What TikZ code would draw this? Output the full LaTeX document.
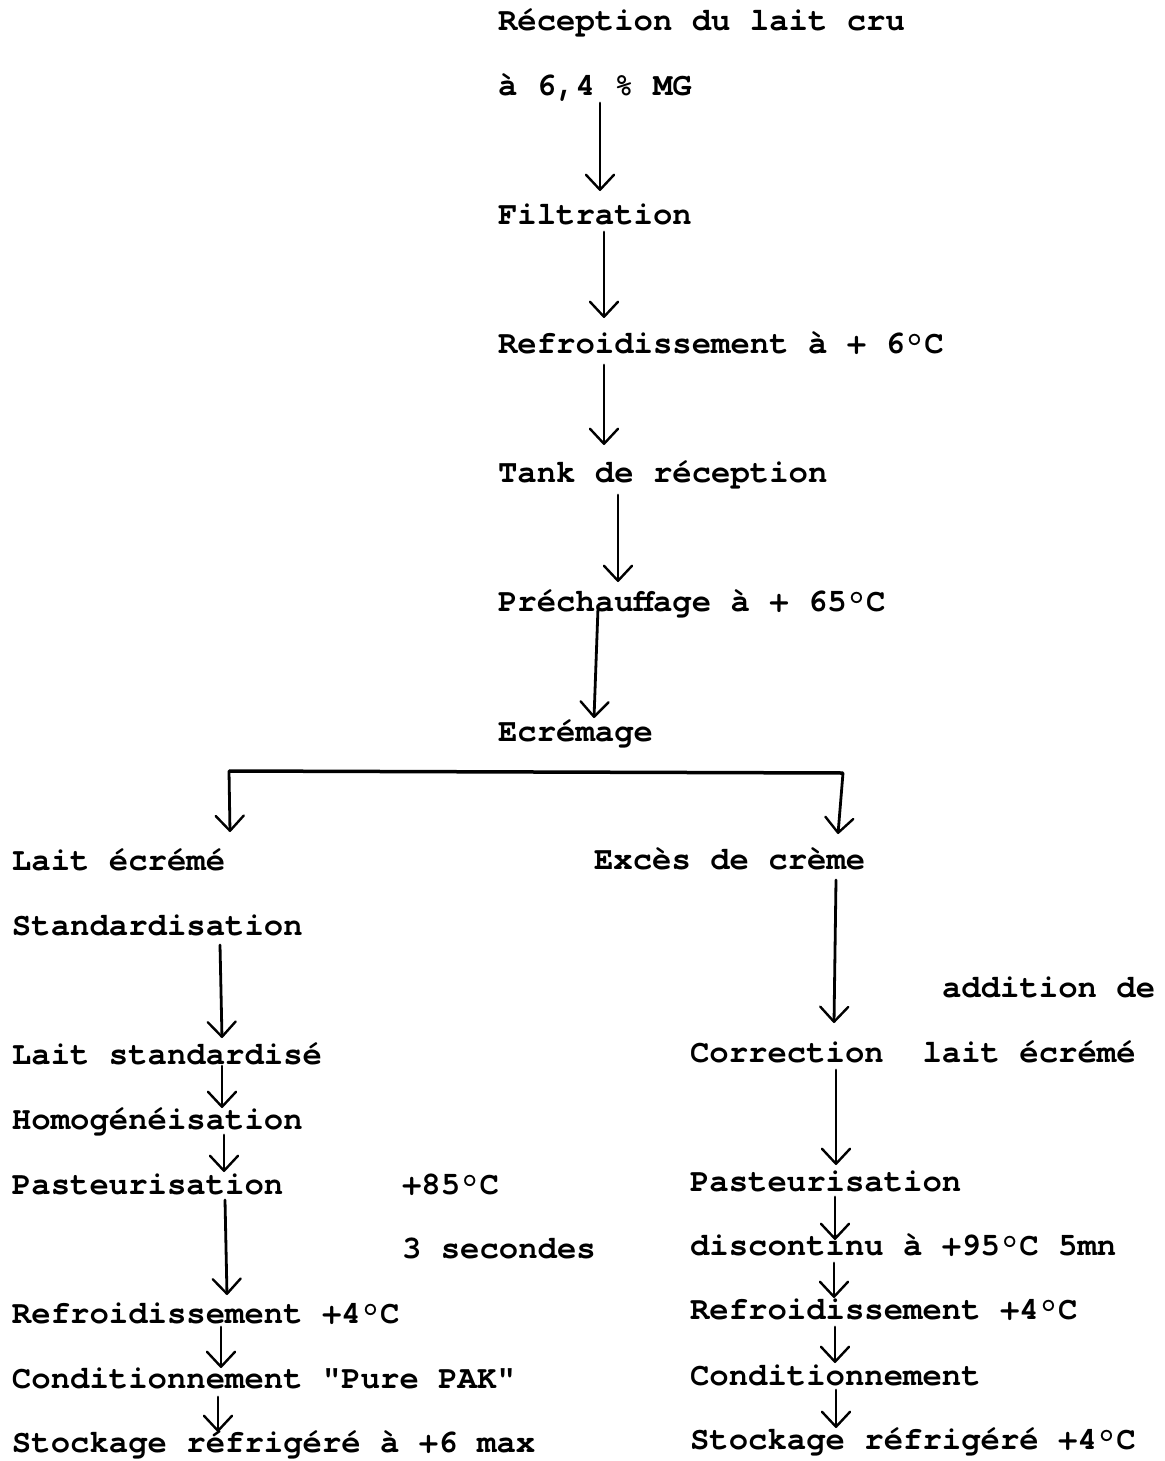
\documentclass[tikz,border=0pt]{standalone}
\usepackage{fontspec}
\newfontfamily\tw{texgyrecursor-bold.otf}
\usetikzlibrary{arrows.meta,calc}
\tikzset{
  lbl/.style={anchor=base west, inner sep=0pt, outer sep=0pt, font=\tw\fontsize{32.3}{33}\selectfont},
  arr/.style={line width=2.8pt, line cap=round,
    -{Straight Barb[length=15pt,width=28pt,line width=2.4pt,round]}},
  bar/.style={line width=3.5pt}
}
\begin{document}
\begin{tikzpicture}[x=1pt,y=-1pt]
\useasboundingbox[fill=white] (0,0) rectangle (1164,1461);
% central column
\node[lbl] (n1) at (498,31) {Réception du lait cru};
\node[lbl] (n2) at (498,96) {à 6,4 \% MG};
\node[lbl] (n3) at (498,224) {Filtration};
\node[lbl] (n4) at (498,353) {Refroidissement à + 6°C};
\node[lbl] (n5) at (498,482) {Tank de réception};
\node[lbl] (n6) at (498,611) {Préchauffage à + 65°C};
\node[lbl] (n7) at (498,741) {Ecrémage};
% left column
\node[lbl] (l1) at (12,870) {Lait écrémé};
\node[lbl] (l2) at (12,935) {Standardisation};
\node[lbl] (l3) at (12,1064) {Lait standardisé};
\node[lbl] (l4) at (12,1129) {Homogénéisation};
\node[lbl] (l5) at (12,1194) {Pasteurisation};
\node[lbl] (lt) at (402,1194) {+85°C};
\node[lbl] (ls) at (402,1258) {3 secondes};
\node[lbl] (l6) at (12,1323) {Refroidissement +4°C};
\node[lbl] (l7) at (12,1388) {Conditionnement "Pure PAK"};
\node[lbl] (l8) at (12,1452) {Stockage réfrigéré à +6 max};
% right column
\node[lbl] (r1) at (594,869) {Excès de crème};
\node[lbl] (ra) at (942,997) {addition de};
\node[lbl] (r2) at (690,1062) {Correction\ \ lait écrémé};
\node[lbl] (r3) at (690,1191) {Pasteurisation};
\node[lbl] (r4) at (690,1255) {discontinu à +95°C 5mn};
\node[lbl] (r5) at (690,1319) {Refroidissement +4°C};
\node[lbl] (r6) at (690,1385) {Conditionnement};
\node[lbl] (r7) at (690,1449) {Stockage réfrigéré +4°C};
% split bar
\coordinate (hl) at (229,771);
\coordinate (hr) at (843,773);
\draw[bar] (hl) -- (hr);
% arrows central
\draw[arr] ($(n2.base west)+(102,7)$) -- ($(n3.base west)+(102,-33)$);
\draw[arr] ($(n3.base west)+(106,8)$) -- ($(n4.base west)+(106,-35)$);
\draw[arr] ($(n4.base west)+(106,12)$) -- ($(n5.base west)+(106,-37)$);
\draw[arr] ($(n5.base west)+(120,13)$) -- ($(n6.base west)+(120,-29)$);
\draw[arr] ($(n6.base west)+(100,-3)$) -- ($(n7.base west)+(96,-23)$);
% branch arrows
\draw[arr] (hl) -- ($(l1.base west)+(218,-38)$);
\draw[arr] (hr) -- ($(r1.base west)+(244,-35)$);
% left column arrows
\draw[arr] ($(l2.base west)+(208,10)$) -- ($(l3.base west)+(210,-26)$);
\draw[arr] ($(l3.base west)+(210,2)$) -- ($(l4.base west)+(210,-21)$);
\draw[arr] ($(l4.base west)+(212,6)$) -- ($(l5.base west)+(212,-22)$);
\draw[arr] ($(l5.base west)+(213,6)$) -- ($(l6.base west)+(215,-28)$);
\draw[arr] ($(l6.base west)+(209,4)$) -- ($(l7.base west)+(209,-20)$);
\draw[arr] ($(l7.base west)+(206,9)$) -- ($(l8.base west)+(206,-20)$);
% right column arrows
\draw[arr] ($(r1.base west)+(242,11)$) -- ($(r2.base west)+(144,-39)$);
\draw[arr] ($(r2.base west)+(146,8)$) -- ($(r3.base west)+(146,-26)$);
\draw[arr] ($(r3.base west)+(145,6)$) -- ($(r4.base west)+(145,-15)$);
\draw[arr] ($(r4.base west)+(144,8)$) -- ($(r5.base west)+(144,-21)$);
\draw[arr] ($(r5.base west)+(145,8)$) -- ($(r6.base west)+(145,-22)$);
\draw[arr] ($(r6.base west)+(146,5)$) -- ($(r7.base west)+(146,-21)$);
\end{tikzpicture}
\end{document}
